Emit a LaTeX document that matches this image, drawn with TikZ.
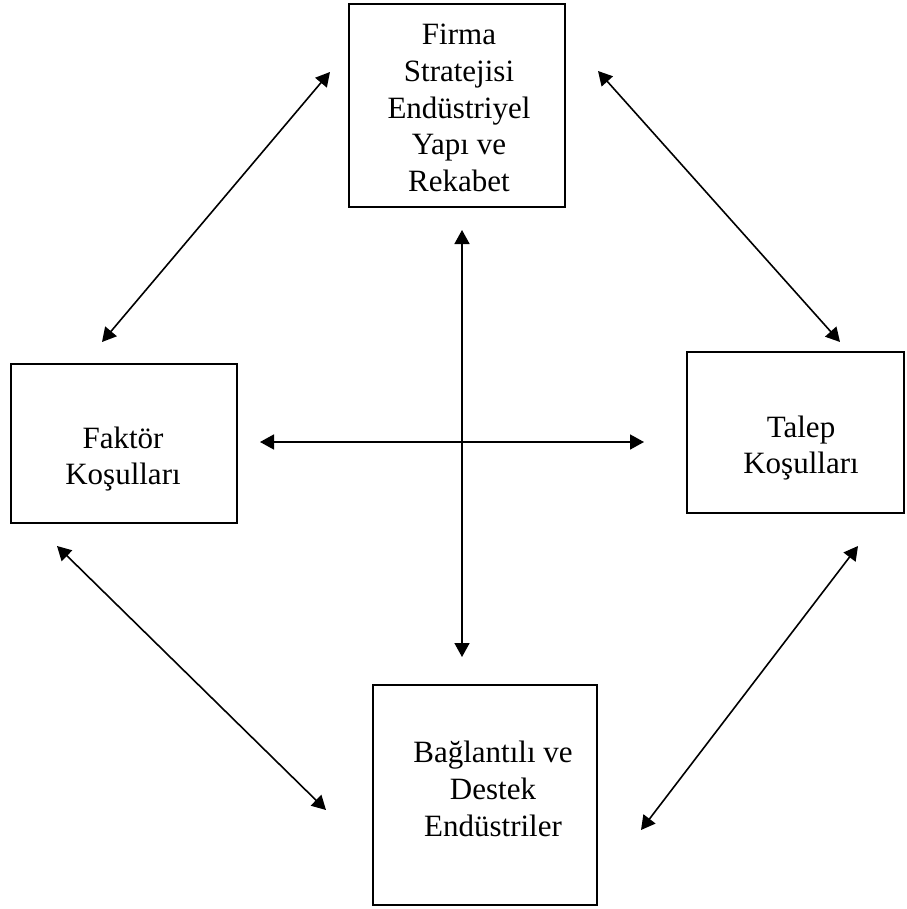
\documentclass[tikz,border=0pt]{standalone}
\usepackage{fontspec}
\setmainfont{Liberation Serif}
\usetikzlibrary{arrows.meta}
\begin{document}
\begin{tikzpicture}[x=0.5pt,y=-0.5pt,
  box/.style={draw,line width=1pt,inner sep=0pt,outer sep=0pt},
  lbl/.style={align=center,inner sep=0pt,font=\fontsize{15.5pt}{18.4pt}\selectfont},
  link/.style={line width=0.8pt,{Triangle[length=7pt,width=7.5pt]}-{Triangle[length=7pt,width=7.5pt]}}]
\useasboundingbox (0,0) rectangle (906,909);

% the four boxes of the diamond
\node[box,minimum width=108pt,minimum height=101.5pt] (firma) at (457,105.5) {};
\node[box,minimum width=113pt,minimum height=79.5pt] (faktor) at (124,443.5) {};
\node[box,minimum width=108.5pt,minimum height=80.5pt] (talep) at (795.5,432.5) {};
\node[box,minimum width=112pt,minimum height=110pt] (baglanti) at (485,795) {};

% box texts
\node[lbl] (firmatext) at (459,108) {Firma\\Stratejisi\\Endüstriyel\\Yapı ve\\Rekabet};
\node[lbl] (faktortext) at (123,459) {Faktör\\Koşulları};
\node[lbl] (taleptext) at (801,448) {Talep\\Koşulları};
\node[lbl] (baglantitext) at (493,789) {Bağlantılı ve\\Destek\\Endüstriler};

% free arrow ends
\coordinate (tl1) at (330,72);  \coordinate (tl2) at (102,342);
\coordinate (tr1) at (598,71);  \coordinate (tr2) at (840,342);
\coordinate (bl1) at (57,546);  \coordinate (bl2) at (326,810);
\coordinate (br1) at (858,546); \coordinate (br2) at (641,830);
\coordinate (vt) at (462,230);  \coordinate (vb) at (462,657);
\coordinate (hl) at (260,442);  \coordinate (hr) at (644,442);

% two-way arrows
\draw[link] (tl1) -- (tl2);
\draw[link] (tr1) -- (tr2);
\draw[link] (bl1) -- (bl2);
\draw[link] (br1) -- (br2);
\draw[link] (vt) -- (vb);
\draw[link] (hl) -- (hr);
\end{tikzpicture}
\end{document}
